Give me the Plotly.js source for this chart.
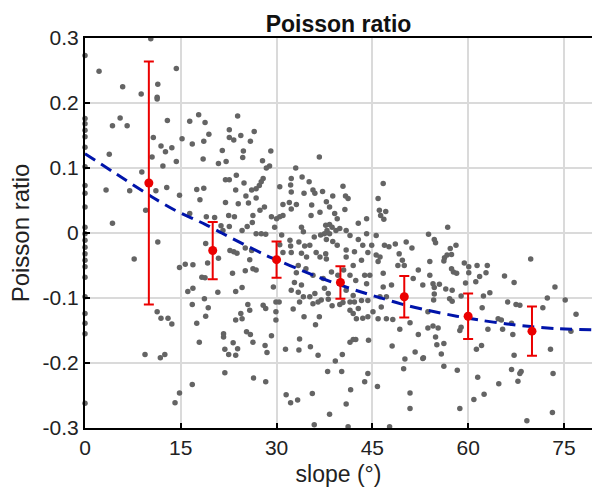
<!DOCTYPE html>
<html>
<head>
<meta charset="utf-8">
<script src="https://cdn.plot.ly/plotly-3.0.1.min.js"></script>
<style>html,body{margin:0;padding:0;overflow:hidden;background:#fff}</style>
</head>
<body>
<div id="chart" style="width:592px;height:492px"></div>
<script>
// Scatter samples: slope (deg) and Poisson ratio
const slopeX = [
0,0,0,0,0,0,0,0,0,0,0,0,0,0,0,0,0,0,0,0,0,0,0,
10.3,2.2,5.9,8.8,11.4,11.3,11.3,14.3,5.5,4.3,6.6,12.9,10.7,11.9,12.6,13.6,10.5,12.2,14.3,3.8,15.2,16.4,17.8,18.8,19.4,16.8,18.6,18.5,21.5,20.9,22.1,22.6,22.6,23.3,24.4,23.9,24.8,24.7,25.9,26.5,
29.1,27.8,28.9,28.4,36.7,33.0,
8.9,3.3,7.0,11.1,12.8,9.5,4.3,14.8,17.5,18.6,18.0,16.4,19.0,20.3,22.0,22.6,23.7,24.9,23.6,25.2,22.0,24.0,25.6,22.5,21.3,21.6,22.6,24.6,25.4,23.4,26.2,11.4,7.7,18.9,19.2,20.9,22.7,23.3,23.8,25.1,14.8,15.7,16.9,18.3,18.8,23.1,25.1,26.3,24.6,23.6,16.1,16.9,20.8,18.7,
27.9,27.6,27.3,26.8,26.1,26.8,28.1,27.4,26.3,30.5,32.3,32.2,32.3,34.0,35.1,34.3,35.7,36.0,37.2,38.8,40.4,40.8,41.2,46.7,45.9,46.1,47.1,46.3,46.8,31.0,32.0,32.3,33.1,31.0,30.5,30.0,29.2,29.7,35.5,35.4,36.8,37.8,38.3,39.1,39.5,40.7,37.7,38.3,38.7,37.9,37.5,38.3,39.3,39.9,33.9,34.2,35.9,36.9,37.8,38.8,40.9,41.5,42.8,44.1,42.8,44.1,45.6,26.8,27.6,28.3,30.8,30.5,32.1,32.2,31.0,32.3,33.5,34.4,35.2,33.9,34.7,36.2,36.8,37.7,37.8,39.5,40.9,40.9,42.2,43.5,44.9,44.3,43.3,45.6,46.2,45.9,46.9,47.6,48.6,50.3,51.2,49.2,49.7,50.0,49.0,26.1,25.8,26.8,33.4,34.6,33.1,32.8,33.9,32.3,35.7,37.3,38.6,39.6,40.5,42.0,41.5,42.4,43.8,44.6,44.1,37.5,38.1,36.0,35.2,33.4,34.2,40.9,42.0,46.7,48.0,46.7,46.2,47.2,52.2,51.4,29.5,
56.8,53.8,54.7,54.9,57.2,58.1,56.7,56.3,56.2,57.4,54.0,54.0,59.4,60.1,60.1,61.4,63.0,62.8,57.4,57.7,58.2,69.8,65.7,67.2,61.8,61.2,59.6,52.9,54.5,55.5,54.7,56.5,57.5,54.7,63.4,73.6,
11.3,11.9,13.0,13.6,9.4,11.8,12.5,16.8,19.3,18.9,17.5,17.9,14.8,16.8,14.1,21.7,21.7,23.2,23.9,21.9,22.5,23.6,23.6,24.4,24.6,25.5,25.8,25.3,25.9,26.3,21.9,26.4,
27.9,28.3,29.9,30.4,32.6,33.6,35.7,36.5,37.0,38.1,38.7,39.9,40.4,41.5,42.2,41.5,42.8,43.3,44.3,42.0,42.5,43.5,44.3,45.1,46.4,45.9,47.2,48.2,29.9,29.9,34.3,36.7,36.1,29.2,28.2,28.5,33.6,33.5,35.3,31.4,36.5,41.5,42.0,42.4,44.4,40.3,39.2,48.1,49.3,50.9,52.2,51.7,52.9,50.1,49.9,28.3,38.0,40.2,44.3,43.8,31.5,32.2,33.3,35.6,41.6,40.9,38.3,35.9,41.2,47.7,45.8,50.9,50.9,
54.6,57.1,57.5,58.9,62.4,66.2,67.5,68.1,72.4,75.2,53.7,62.2,64.7,65.2,63.1,65.4,66.8,67.0,71.7,76.9,76.1,53.7,54.5,55.3,54.9,55.1,56.2,55.8,53.0,58.9,58.7,62.1,61.3,67.2,72.9,56.2,58.3,61.5,66.8,68.3,68.1,67.8,64.8,73.3,62.5,60.9,58.7,73.2,69.2
];
const poissonY = [
0.273,0.176,0.168,0.158,0.148,0.132,0.102,0.073,0.061,0.040,0.009,-0.001,-0.011,-0.022,-0.032,-0.042,-0.052,-0.068,-0.098,-0.124,-0.139,-0.155,-0.262,
0.299,0.249,0.225,0.214,0.229,0.209,0.206,0.253,0.177,0.165,0.165,0.173,0.147,0.134,0.125,0.131,0.117,0.103,0.110,0.121,0.145,0.172,0.182,0.170,0.152,0.137,0.141,0.114,0.127,0.107,0.110,0.159,0.147,0.143,0.150,0.180,0.126,0.116,0.141,0.156,
0.126,0.111,0.103,0.100,0.117,0.100,
0.094,0.066,0.065,0.065,0.070,0.035,0.015,0.058,0.067,0.069,0.051,0.030,0.025,0.024,0.082,0.082,0.089,0.077,0.066,0.057,0.047,0.045,0.046,0.027,0.011,0.004,0.010,0.004,0.010,0.025,0.016,-0.014,-0.040,-0.016,-0.046,-0.039,-0.027,-0.029,-0.031,-0.023,-0.053,-0.048,-0.049,-0.068,-0.069,-0.062,-0.058,-0.055,-0.084,-0.090,-0.090,-0.085,-0.091,-0.101,
0.084,0.079,0.073,0.068,0.066,0.054,0.040,0.035,0.027,0.071,0.084,0.074,0.063,0.086,0.079,0.061,0.066,0.061,0.064,0.057,0.072,0.057,0.053,0.076,0.053,0.035,0.033,0.027,0.021,0.044,0.047,0.037,0.044,0.027,0.025,0.022,0.025,0.009,0.043,0.027,0.032,0.048,0.040,0.030,0.022,0.036,0.012,0.013,0.009,0.004,-0.001,-0.001,0.004,0.007,0.009,0.002,-0.006,-0.003,-0.010,-0.013,0.004,-0.004,0.015,0.022,-0.010,-0.001,-0.004,-0.001,-0.001,-0.002,-0.003,-0.018,-0.011,-0.020,-0.030,-0.030,-0.014,-0.020,-0.019,-0.031,-0.037,-0.030,-0.037,-0.032,-0.040,-0.019,-0.026,-0.037,-0.029,-0.019,-0.019,-0.030,-0.042,-0.034,-0.037,-0.044,-0.019,-0.021,-0.017,-0.014,-0.023,-0.032,-0.042,-0.050,-0.050,-0.027,-0.041,-0.057,-0.050,-0.055,-0.061,-0.076,-0.080,-0.088,-0.065,-0.070,-0.060,-0.065,-0.057,-0.050,-0.065,-0.073,-0.065,-0.065,-0.078,-0.085,-0.093,-0.093,-0.098,-0.091,-0.098,-0.088,-0.096,-0.062,-0.080,-0.083,-0.098,-0.098,-0.057,-0.070,-0.083,
0.009,-0.002,-0.010,-0.015,-0.024,-0.019,-0.034,-0.038,-0.043,-0.033,-0.044,-0.065,-0.046,-0.052,-0.061,-0.050,-0.050,-0.061,-0.055,-0.060,-0.062,-0.040,-0.066,-0.076,-0.067,-0.075,-0.077,-0.080,-0.078,-0.079,-0.084,-0.086,-0.088,-0.094,-0.092,-0.083,
-0.121,-0.131,-0.131,-0.140,-0.187,-0.192,-0.187,-0.110,-0.115,-0.128,-0.139,-0.168,-0.246,-0.233,-0.261,-0.155,-0.160,-0.169,-0.178,-0.179,-0.187,-0.188,-0.134,-0.124,-0.132,-0.110,-0.119,-0.152,-0.156,-0.168,-0.215,-0.223,
-0.111,-0.116,-0.106,-0.106,-0.117,-0.106,-0.109,-0.106,-0.103,-0.102,-0.112,-0.110,-0.107,-0.106,-0.106,-0.119,-0.116,-0.104,-0.104,-0.124,-0.132,-0.131,-0.129,-0.121,-0.114,-0.132,-0.132,-0.133,-0.121,-0.134,-0.129,-0.129,-0.141,-0.158,-0.173,-0.184,-0.163,-0.180,-0.175,-0.179,-0.188,-0.168,-0.164,-0.164,-0.165,-0.187,-0.197,-0.174,-0.148,-0.138,-0.156,-0.183,-0.193,-0.194,-0.209,-0.229,-0.213,-0.213,-0.216,-0.229,-0.249,-0.261,-0.257,-0.247,-0.241,-0.263,-0.279,-0.295,-0.298,-0.298,-0.236,-0.246,-0.270,
-0.103,-0.101,-0.105,-0.097,-0.097,-0.106,-0.110,-0.111,-0.100,-0.103,-0.121,-0.115,-0.132,-0.134,-0.148,-0.148,-0.139,-0.156,-0.115,-0.125,-0.151,-0.146,-0.143,-0.146,-0.160,-0.172,-0.170,-0.186,-0.192,-0.145,-0.150,-0.173,-0.179,-0.188,-0.179,-0.205,-0.211,-0.222,-0.210,-0.213,-0.216,-0.228,-0.232,-0.216,-0.248,-0.256,-0.270,-0.276,-0.289
];

// Binned means with error bars
const binSlope = [10, 20, 30, 40, 50, 60, 70];
const binMean = [0.077, -0.027, -0.041, -0.076, -0.098, -0.128, -0.151];
const binErr = [0.187, 0.044, 0.028, 0.025, 0.032, 0.035, 0.038];

// Fitted trend (dashed line)
const fitX = [0, 4.4, 10.9, 14.1, 18.9, 21.4, 24.8, 28.5, 35.8, 39.1, 43.0, 46.7, 50.6, 54.2, 58.2, 61.8, 66.1, 69.8, 73.8, 79.4];
const fitY = [0.122, 0.094, 0.053, 0.035, 0.013, 0.000, -0.017, -0.035, -0.065, -0.077, -0.090, -0.101, -0.112, -0.120, -0.128, -0.134, -0.140, -0.144, -0.147, -0.149];

const xTicks = [0, 15, 30, 45, 60, 75];
const yTicks = [-0.3, -0.2, -0.1, 0, 0.1, 0.2, 0.3];
const yTickText = ['-0.3', '-0.2', '-0.1', '0', '0.1', '0.2', '0.3'];

const FONT = 'Liberation Sans, Arial, Helvetica, sans-serif';

const traces = [
  {
    type: 'scatter', mode: 'markers', x: slopeX, y: poissonY,
    marker: {color: 'rgb(100,100,100)', size: 5.5},
    cliponaxis: false, hoverinfo: 'skip', showlegend: false
  },
  {
    type: 'scatter', mode: 'lines', x: fitX, y: fitY,
    line: {color: 'rgb(0,20,170)', width: 3, dash: '12px,7px', shape: 'spline', smoothing: 0.8},
    hoverinfo: 'skip', showlegend: false
  },
  {
    type: 'scatter', mode: 'markers', x: binSlope, y: binMean,
    marker: {color: 'rgb(235,0,0)', size: 9},
    error_y: {type: 'data', array: binErr, visible: true, color: 'rgb(235,0,0)', thickness: 2, width: 5},
    hoverinfo: 'skip', showlegend: false
  }
];

const layout = {
  width: 592, height: 492,
  margin: {l: 85, r: 0, t: 38, b: 64, pad: 0},
  paper_bgcolor: '#fff', plot_bgcolor: '#fff',
  font: {family: FONT, size: 21, color: '#222'},
  title: {text: '<b>Poisson ratio</b>', font: {family: FONT, size: 23, color: '#111'},
          xref: 'paper', x: 0.5, xanchor: 'center', yref: 'paper', y: 1, yanchor: 'bottom', pad: {b: 6}},
  xaxis: {
    range: [0, 79.4], tickvals: xTicks, ticktext: xTicks.map(String),
    ticks: 'inside', ticklen: 5, tickwidth: 2, tickcolor: '#000',
    showline: true, linecolor: '#000', linewidth: 2, mirror: true,
    showgrid: true, gridcolor: 'rgb(218,218,218)', gridwidth: 2, zeroline: false,
    tickfont: {family: FONT, size: 21, color: '#222'},
    title: {text: 'slope (°)', font: {family: FONT, size: 23, color: '#222'}, standoff: 8}
  },
  yaxis: {
    range: [-0.3, 0.3], tickvals: yTicks, ticktext: yTickText,
    ticks: 'inside', ticklen: 5, tickwidth: 2, tickcolor: '#000',
    showline: true, linecolor: '#000', linewidth: 2, mirror: false,
    showgrid: true, gridcolor: 'rgb(218,218,218)', gridwidth: 2, zeroline: false,
    tickfont: {family: FONT, size: 21, color: '#222'},
    title: {text: 'Poisson ratio', font: {family: FONT, size: 24, color: '#222'}, standoff: 6}
  }
};

Plotly.newPlot('chart', traces, layout, {staticPlot: true, displayModeBar: false});
</script>
</body>
</html>
